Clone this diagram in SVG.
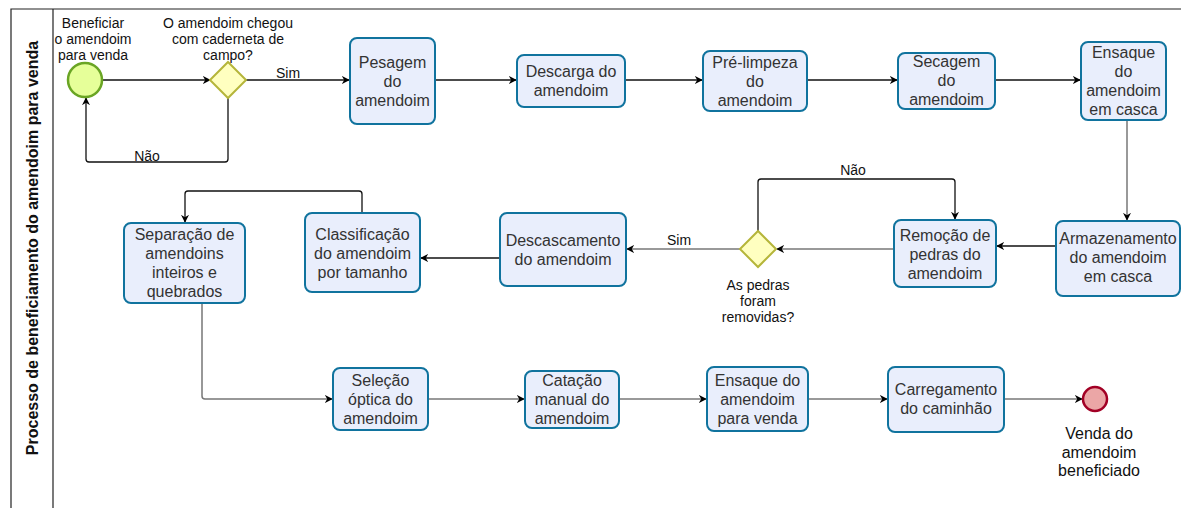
<svg xmlns="http://www.w3.org/2000/svg" width="1181" height="508" viewBox="0 0 1181 508">
<defs>
<marker id="arr" viewBox="0 0 10 10" refX="9" refY="5" markerWidth="8" markerHeight="8" markerUnits="userSpaceOnUse" orient="auto">
<path d="M0,0 L10,5 L0,10 L3,5 z" fill="#000"/>
</marker>
<style>
.task{fill:#e9eefc;stroke:#10739e;stroke-width:2}
.t{font-family:"Liberation Sans",Arial,sans-serif;font-size:16px;fill:#333;text-anchor:middle}
.s{font-family:"Liberation Sans",Arial,sans-serif;font-size:14px;fill:#111;text-anchor:middle}
.e{fill:none;stroke:#111;stroke-width:1.3;marker-end:url(#arr)}
.g{fill:none;stroke:#777;stroke-width:1.5;marker-end:url(#arr)}
.gw{fill:#ffffc0;stroke:#b5b53a;stroke-width:2}
</style>
</defs>
<rect width="1181" height="508" fill="#fff"/>
<g id="pool">
<path d="M11,508 L11,9 L1181,9 M53,9 L53,508" fill="none" stroke="#222" stroke-width="1.2"/>
<text transform="translate(38,248) rotate(-90)" font-family="Liberation Sans,Arial,sans-serif" font-size="16" font-weight="bold" text-anchor="middle" fill="#111">Processo de beneficiamento do amendoim para venda</text>
</g>
<g id="connectors">
<path class="e" d="M102,80 L210,80"/>
<path class="e" d="M246,80 L349,80"/>
<path class="e" d="M228,98 L228,159 Q228,162 225,162 L89,162 Q86,162 86,159 L86,98"/>
<path class="e" d="M435,80 L516,80"/>
<path class="e" d="M625,80 L702,80"/>
<path class="e" d="M807,80 L897,80"/>
<path class="e" d="M995,80 L1080,80"/>
<path class="g" d="M1127,120 L1127,220"/>
<path class="e" d="M1056,246 L997,246"/>
<path class="g" d="M894,249 L777,249"/>
<path class="e" d="M758,231 L758,182 Q758,179 761,179 L952,179 Q955,179 955,182 L955,219"/>
<path class="g" d="M740,249 L627,249"/>
<path class="e" d="M500,258 L421,258"/>
<path class="e" d="M362,213 L362,194 Q362,191 359,191 L188,191 Q185,191 185,194 L185,222"/>
<path class="g" d="M202,303 L202,396 Q202,399 205,399 L332,399"/>
<path class="g" d="M428,399 L524,399"/>
<path class="g" d="M619,399 L706,399"/>
<path class="g" d="M808,399 L887,399"/>
<path class="g" d="M1004,399 L1082,399"/>
<text class="s" x="288" y="78" font-size="13">Sim</text>
<text class="s" x="147" y="161" font-size="13">Não</text>
<text class="s" x="853" y="175" font-size="13">Não</text>
<text class="s" x="679" y="245" font-size="13">Sim</text>
</g>
<g id="start">
<circle cx="85" cy="80" r="17" fill="#e6ff99" stroke="#6aa524" stroke-width="2.5"/>
<text class="s"><tspan x="93" y="28">Beneficiar</tspan><tspan x="93" y="44">o amendoim</tspan><tspan x="93" y="60">para venda</tspan></text>
</g>
<g id="gateway1">
<path class="gw" d="M228,62 L246,80 L228,98 L210,80 z"/>
<text class="s"><tspan x="228" y="28">O amendoim chegou</tspan><tspan x="228" y="44">com caderneta de</tspan><tspan x="228" y="60">campo?</tspan></text>
</g>
<g id="pesagem">
<rect class="task" x="350" y="38" width="85" height="86" rx="7"/>
<text class="t"><tspan x="392.5" y="68">Pesagem</tspan><tspan x="392.5" y="87">do</tspan><tspan x="392.5" y="106">amendoim</tspan></text>
</g>
<g id="descarga">
<rect class="task" x="517" y="55" width="108" height="52" rx="7"/>
<text class="t"><tspan x="571" y="77">Descarga do</tspan><tspan x="571" y="96">amendoim</tspan></text>
</g>
<g id="prelimpeza">
<rect class="task" x="703" y="51" width="104" height="60" rx="7"/>
<text class="t"><tspan x="755" y="68">Pré-limpeza</tspan><tspan x="755" y="87">do</tspan><tspan x="755" y="106">amendoim</tspan></text>
</g>
<g id="secagem">
<rect class="task" x="898" y="53" width="97" height="56" rx="7"/>
<text class="t"><tspan x="946.5" y="67">Secagem</tspan><tspan x="946.5" y="86">do</tspan><tspan x="946.5" y="105">amendoim</tspan></text>
</g>
<g id="ensaque-casca">
<rect class="task" x="1081" y="42" width="85" height="78" rx="7"/>
<text class="t"><tspan x="1123.5" y="58">Ensaque</tspan><tspan x="1123.5" y="77">do</tspan><tspan x="1123.5" y="96">amendoim</tspan><tspan x="1123.5" y="115">em casca</tspan></text>
</g>
<g id="armazenamento">
<rect class="task" x="1056" y="221" width="124" height="75" rx="7"/>
<text class="t"><tspan x="1118" y="244">Armazenamento</tspan><tspan x="1118" y="263">do amendoim</tspan><tspan x="1118" y="282">em casca</tspan></text>
</g>
<g id="remocao">
<rect class="task" x="894" y="220" width="102" height="67" rx="7"/>
<text class="t"><tspan x="945" y="241">Remoção de</tspan><tspan x="945" y="260">pedras do</tspan><tspan x="945" y="279">amendoim</tspan></text>
</g>
<g id="gateway2">
<path class="gw" d="M758,231 L776,249 L758,267 L740,249 z"/>
<text class="s" font-size="13"><tspan x="758" y="290">As pedras</tspan><tspan x="758" y="306">foram</tspan><tspan x="758" y="322">removidas?</tspan></text>
</g>
<g id="descascamento">
<rect class="task" x="500" y="213" width="126" height="73" rx="7"/>
<text class="t"><tspan x="563" y="246">Descascamento</tspan><tspan x="563" y="265">do amendoim</tspan></text>
</g>
<g id="classificacao">
<rect class="task" x="305" y="213" width="115" height="79" rx="7"/>
<text class="t"><tspan x="362.5" y="240">Classificação</tspan><tspan x="362.5" y="259">do amendoim</tspan><tspan x="362.5" y="278">por tamanho</tspan></text>
</g>
<g id="separacao">
<rect class="task" x="124" y="223" width="121" height="80" rx="7"/>
<text class="t"><tspan x="184.5" y="240">Separação de</tspan><tspan x="184.5" y="259">amendoins</tspan><tspan x="184.5" y="278">inteiros e</tspan><tspan x="184.5" y="297">quebrados</tspan></text>
</g>
<g id="selecao">
<rect class="task" x="333" y="368" width="95" height="62" rx="7"/>
<text class="t"><tspan x="380.5" y="386">Seleção</tspan><tspan x="380.5" y="405">óptica do</tspan><tspan x="380.5" y="424">amendoim</tspan></text>
</g>
<g id="catacao">
<rect class="task" x="525" y="371" width="94" height="57" rx="7"/>
<text class="t"><tspan x="572" y="386">Catação</tspan><tspan x="572" y="405">manual do</tspan><tspan x="572" y="424">amendoim</tspan></text>
</g>
<g id="ensaque-venda">
<rect class="task" x="707" y="367" width="101" height="64" rx="7"/>
<text class="t"><tspan x="757.5" y="386">Ensaque do</tspan><tspan x="757.5" y="405">amendoim</tspan><tspan x="757.5" y="424">para venda</tspan></text>
</g>
<g id="carregamento">
<rect class="task" x="888" y="367" width="116" height="65" rx="7"/>
<text class="t"><tspan x="946" y="395">Carregamento</tspan><tspan x="946" y="414">do caminhão</tspan></text>
</g>
<g id="end">
<circle cx="1095" cy="399" r="12" fill="#eba6a6" stroke="#a20025" stroke-width="2.5"/>
<text class="t" fill="#111" style="fill:#111"><tspan x="1099" y="439">Venda do</tspan><tspan x="1099" y="458">amendoim</tspan><tspan x="1099" y="476">beneficiado</tspan></text>
</g>
</svg>
